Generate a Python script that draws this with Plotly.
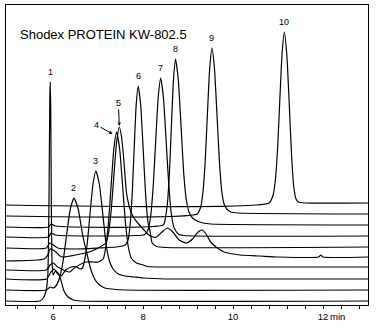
import plotly.graph_objects as go

# Retention time (min) and detector response (stacked, arbitrary units)
t1 = [4.95, 5.70, 5.78, 5.84, 5.88, 5.905, 5.925, 5.935, 5.945, 5.96, 5.975, 6.00, 6.05, 6.12, 6.17, 6.24, 6.33, 6.45, 6.60, 13.0]
r1 = [4, 4, 7, 14, 30, 100, 210, 223, 195, 90, 42, 30, 34, 31, 25, 14, 8, 5, 4, 4]

t2 = [4.95, 5.85, 5.93, 6.00, 6.06, 6.14, 6.22, 6.30, 6.38, 6.46, 6.555, 6.65, 6.745, 6.84, 6.935, 7.03, 7.15, 7.30, 7.60, 13.0]
r2 = [15, 15, 18, 17, 19, 27, 44, 71, 96, 107, 96, 71, 52, 35, 25, 20, 17, 16, 15, 15]

t3 = [4.95, 5.85, 5.95, 6.02, 6.10, 6.17, 6.28, 6.40, 6.52, 6.60, 6.65, 6.69, 6.755, 6.82, 6.885, 6.95, 7.025, 7.10, 7.175, 7.25, 7.33, 7.45, 7.60, 7.80, 8.00, 8.50, 13.0]
r3 = [26, 26, 33, 36, 31, 29, 35, 38, 38, 36, 37, 43, 61, 92, 121, 134, 121, 92, 61, 44, 36, 31, 29, 28, 27, 26, 26]

t4 = [4.95, 5.85, 5.93, 6.00, 6.10, 6.36, 6.50, 6.73, 6.90, 7.00, 7.11, 7.17, 7.23, 7.29, 7.35, 7.41, 7.475, 7.54, 7.605, 7.67, 7.735, 7.85, 8.00, 8.10, 8.50, 13.0]
r4 = [35, 35, 40, 42, 38, 33, 38, 43, 43, 43, 46, 58, 83, 121, 157, 173, 157, 121, 83, 58, 47, 42, 40, 38.5, 38, 38]

t5 = [4.95, 5.80, 5.88, 5.93, 6.00, 6.06, 6.15, 6.22, 6.50, 6.80, 7.00, 7.17, 7.23, 7.29, 7.35, 7.41, 7.47, 7.52, 7.57, 7.63, 7.70, 7.78, 7.90, 8.00, 8.10, 8.22, 8.30, 8.42, 8.54, 8.66, 8.80, 8.96, 9.10, 9.22, 9.31, 9.40, 9.50, 9.65, 9.80, 10.16, 10.60, 11.00, 11.90, 11.95, 12.00, 13.0]
r5 = [44, 46, 50, 56, 55, 53, 49, 48, 50, 53, 57, 62, 72, 95, 130, 163, 178, 168, 145, 112, 97, 88, 81, 76, 71, 68, 68, 73, 77, 73, 65, 62, 66, 73, 75, 71, 63, 57, 53, 50, 49, 48, 48, 50, 48, 48]

t6 = [4.95, 5.85, 5.92, 6.00, 6.10, 6.50, 7.00, 7.40, 7.60, 7.665, 7.71, 7.755, 7.80, 7.845, 7.89, 7.945, 8.00, 8.055, 8.11, 8.16, 8.20, 8.30, 8.50, 13.0]
r6 = [57, 57, 62, 60, 57, 56, 57, 58, 60, 65, 80, 110, 156, 200, 219, 200, 156, 110, 82, 72, 62, 58.5, 57.5, 58]

t7 = [4.95, 5.90, 5.95, 6.05, 7.00, 8.00, 8.05, 8.115, 8.17, 8.225, 8.28, 8.335, 8.39, 8.45, 8.51, 8.57, 8.63, 8.69, 8.78, 8.90, 13.0]
r7 = [68, 68, 72, 70, 69, 70, 71, 76, 90, 120, 165, 208, 227, 208, 165, 120, 90, 77, 71, 69.5, 69]

t8 = [4.95, 5.90, 5.95, 6.05, 8.45, 8.495, 8.54, 8.585, 8.63, 8.675, 8.72, 8.78, 8.84, 8.90, 8.96, 9.02, 9.10, 9.20, 9.33, 9.50, 13.0]
r8 = [78, 78, 81, 79, 80, 87, 102, 133, 181, 226, 246, 226, 181, 133, 105, 93, 87, 84, 82, 81, 80]

t9 = [4.95, 9.20, 9.28, 9.33, 9.38, 9.43, 9.48, 9.53, 9.585, 9.64, 9.695, 9.75, 9.80, 9.86, 9.95, 10.10, 13.0]
r9 = [89, 91, 98, 113, 144, 192, 237, 257, 237, 192, 144, 113, 101, 96, 93, 92, 91]

t10 = [4.95, 10.80, 10.89, 10.94, 10.99, 11.04, 11.09, 11.14, 11.195, 11.25, 11.30, 11.35, 11.40, 11.45, 11.60, 13.0]
r10 = [100, 102, 110, 125, 157, 206, 252, 273, 250, 200, 150, 118, 106, 103, 102, 102]

peak_labels = ["1", "2", "3", "4", "5", "6", "7", "8", "9", "10"]
tick_vals = [6, 8, 10, 12]
tick_text = ["6", "8", "10", "12"]
title_text = "Shodex PROTEIN KW-802.5"

times = [t1, t2, t3, t4, t5, t6, t7, t8, t9, t10]
resps = [r1, r2, r3, r4, r5, r6, r7, r8, r9, r10]

FONT = "Liberation Sans, Arial, sans-serif"

fig = go.Figure()
for t, r in zip(times, resps):
    fig.add_trace(go.Scatter(x=t, y=r, mode="lines",
                             line=dict(color="black", width=1.2, shape="spline", smoothing=0.5),
                             hoverinfo="skip", showlegend=False))

annotations = []
for i, (lab, t, r) in enumerate(zip(peak_labels, times, resps)):
    k = max(range(len(r)), key=lambda j: r[j])
    if lab == "4":
        annotations.append(dict(x=t[k] - 0.09, y=r[k] - 2, text=lab, showarrow=True,
                                ax=-16, ay=-9, arrowhead=2, arrowsize=0.7, arrowwidth=1,
                                arrowcolor="black", font=dict(size=9, family=FONT, color="black")))
    elif lab == "5":
        annotations.append(dict(x=t[k], y=r[k] + 1, text=lab, showarrow=True,
                                ax=-1, ay=-23, arrowhead=2, arrowsize=0.7, arrowwidth=1,
                                arrowcolor="black", font=dict(size=9, family=FONT, color="black")))
    else:
        annotations.append(dict(x=t[k], y=r[k], text=lab, showarrow=False,
                                yanchor="bottom", yshift=3,
                                font=dict(size=9, family=FONT, color="black")))

annotations.append(dict(x=0.033, y=0.903, xref="paper", yref="paper", text=title_text,
                        showarrow=False, xanchor="left", yanchor="middle",
                        font=dict(size=13, family=FONT, color="black")))
annotations.append(dict(x=12, y=0, xref="x", yref="paper", text="min", showarrow=False,
                        xanchor="left", yanchor="top", xshift=5, yshift=-4,
                        font=dict(size=9.5, family=FONT, color="black")))

fig.update_layout(
    width=376, height=329,
    margin=dict(l=6, r=8, t=5, b=24),
    paper_bgcolor="white", plot_bgcolor="white",
    annotations=annotations,
    xaxis=dict(range=[4.95, 13.0], showgrid=False, zeroline=False,
               showline=True, mirror=True, linecolor="black", linewidth=1,
               tickvals=tick_vals, ticktext=tick_text, ticks="outside", ticklen=3,
               tickcolor="black", tickwidth=1,
               tickfont=dict(size=9.5, family=FONT, color="black"),
               minor=dict(ticks="outside", dtick=0.4, tick0=6, ticklen=3,
                          tickcolor="black", tickwidth=1, showgrid=False)),
    yaxis=dict(range=[0, 300], showgrid=False, zeroline=False, showticklabels=False,
               showline=True, mirror=True, linecolor="black", linewidth=1, ticks=""),
)

fig.write_html("out.html")
